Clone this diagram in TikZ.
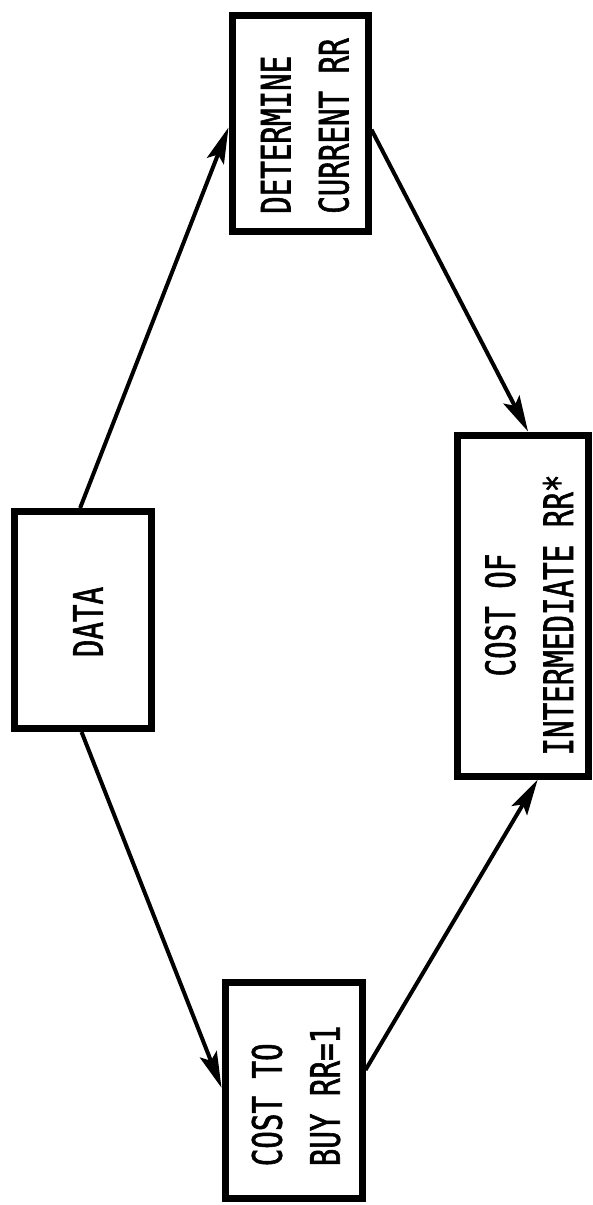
\documentclass[tikz,border=0pt]{standalone}
\usepackage{fontspec}
\newfontfamily\lgfont{DejaVu Sans Mono}[FakeStretch=0.72,FakeBold=1.4]
\usetikzlibrary{arrows.meta,calc}
\begin{document}
\begin{tikzpicture}[x=1pt,y=-1pt,
  boxnode/.style={draw=black,line width=7pt,rectangle,inner sep=0pt,fill=white},
  txt/.style={rotate=90,inner sep=0pt,font=\lgfont\fontsize{40.5}{58}\selectfont},
  arr/.style={line width=4pt,-{Stealth[length=36pt,width=18pt,inset=7pt]}}]
\useasboundingbox[fill=white] (0,0) rectangle (593,1205);
% boxes
\node[boxnode,minimum width=137pt,minimum height=217pt] (data) at (83,620) {};
\node[boxnode,minimum width=136pt,minimum height=216pt] (det) at (300,123) {};
\node[boxnode,minimum width=131pt,minimum height=341pt] (inter) at (522.5,605.5) {};
\node[boxnode,minimum width=137pt,minimum height=216pt] (buy) at (293.5,1090) {};
% texts
\node[txt] (tdata) at (88,622) {DATA};
\node[txt,align=left] (tdet) at (305,126) {DETERMINE\\CURRENT RR};
\node[txt,align=center] (tinter) at (529,615) {COST OF\\INTERMEDIATE RR*};
\node[txt,align=left] (tbuy) at (296,1096) {COST TO\\BUY RR=1};
% connectors
\draw[arr] ($(data.north west)!0.48!(data.north east)$) -- ($(det.north west)!0.52!(det.south west)$);
\draw[arr] ($(det.north east)!0.53!(det.south east)$) -- ($(inter.north west)!0.54!(inter.north east)$);
\draw[arr] ($(data.south west)!0.49!(data.south east)$) -- ($(buy.north west)!0.49!(buy.south west)$);
\draw[arr] ($(buy.north east)!0.41!(buy.south east)$) -- ($(inter.south west)!0.61!(inter.south east)$);
\end{tikzpicture}
\end{document}
